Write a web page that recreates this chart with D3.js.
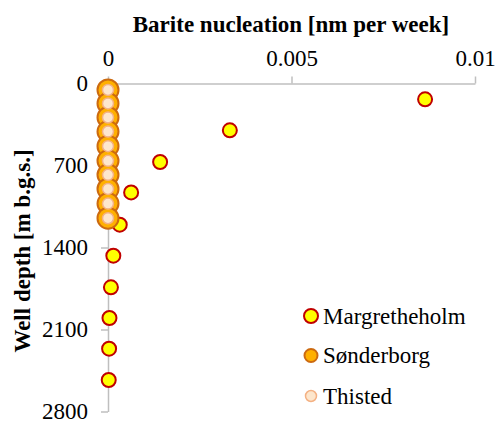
<!DOCTYPE html>
<html><head><meta charset="utf-8">
<script src="https://cdn.jsdelivr.net/npm/d3@7"></script>
<style>body{margin:0;background:#fff}svg{display:block}text{font-family:"Liberation Serif",Tinos,"Times New Roman",Times,"DejaVu Serif",serif;fill:#000}</style>
</head><body>
<script>
const xTicks = [0, 0.005, 0.01];
const yTicks = [0, 700, 1400, 2100, 2800];
const margDepth = [135, 400, 670, 930, 1205, 1470, 1740, 2002, 2264, 2531];
const margValue = [0.00864, 0.00332, 0.00142, 0.00063, 0.00032, 0.000145, 0.00008, 0.00004, 0.00003, 0.00002];
const sonDepth = [55, 170, 290, 410, 535, 660, 780, 900, 1025, 1150];
const sonValue = [0, 0, 0, 0, 0, 0, 0, 0, 0, 0];
const thiDepth = [55, 170, 290, 410, 535, 660, 780, 900, 1025, 1150];
const thiValue = [0, 0, 0, 0, 0, 0, 0, 0, 0, 0];
const seriesNames = ["Margretheholm", "Sønderborg", "Thisted"];

const FONT = '"Liberation Serif",Tinos,"Times New Roman",Times,"DejaVu Serif",serif';
const W = 496, H = 421;
const svg = d3.select("body").append("svg").attr("width", W).attr("height", H);
const x = d3.scaleLinear().domain([0, 0.01]).range([108, 475]);
const y = d3.scaleLinear().domain([0, 2800]).range([83.5, 411.5]);

const axisColor = "#bfbfbf";
const fmtX = d => d === 0 ? "0" : String(d);

const xAxis = svg.append("g").attr("transform", `translate(0,${y(0)})`)
  .call(d3.axisTop(x).tickValues(xTicks).tickSize(7).tickSizeOuter(0).tickPadding(11).tickFormat(fmtX));
const yAxis = svg.append("g").attr("transform", `translate(${x(0)},0)`)
  .call(d3.axisLeft(y).tickValues(yTicks).tickSize(7).tickSizeOuter(0).tickPadding(13).tickFormat(d3.format("d")));
[xAxis, yAxis].forEach(g => {
  g.attr("font-family", FONT);
  g.select(".domain").attr("stroke", axisColor).attr("stroke-width", 1.5);
  g.selectAll(".tick line").attr("stroke", axisColor).attr("stroke-width", 1.5);
  g.selectAll(".tick text").style("font-family", FONT).style("font-size", "23px").attr("fill", "#000");
});

svg.append("text").attr("x", 291).attr("y", 32).attr("text-anchor", "middle")
  .style("font-family", FONT).style("font-size", "23px").style("font-weight", "bold").text("Barite nucleation [nm per week]");
svg.append("text").attr("transform", "translate(30,251) rotate(-90)").attr("text-anchor", "middle")
  .style("font-family", FONT).style("font-size", "23px").style("font-weight", "bold").text("Well depth [m b.g.s.]");

const marg = margDepth.map((d, i) => ({d, v: margValue[i]}));
const son = sonDepth.map((d, i) => ({d, v: sonValue[i]}));
const thi = thiDepth.map((d, i) => ({d, v: thiValue[i]}));

const styles = [
  {fill: "#ffff00", stroke: "#c00000", r: 7, sw: 2, lr: 7},
  {fill: "#ffb000", stroke: "#cc6a10", r: 10.5, sw: 2, lr: 6.5},
  {fill: "#fde6cc", stroke: "#f4b183", r: 5.5, sw: 1.5, lr: 5.5}
];
[marg, son, thi].forEach((data, k) => {
  const s = styles[k];
  svg.append("g").selectAll("circle").data(data).join("circle")
    .attr("cx", d => x(d.v)).attr("cy", d => y(d.d)).attr("r", s.r)
    .attr("fill", s.fill).attr("stroke", s.stroke).attr("stroke-width", s.sw);
});

const legY = [316, 355.5, 396];
const leg = svg.append("g");
seriesNames.forEach((n, k) => {
  const s = styles[k];
  leg.append("circle").attr("cx", 311).attr("cy", legY[k]).attr("r", s.lr)
    .attr("fill", s.fill).attr("stroke", s.stroke).attr("stroke-width", s.sw);
  leg.append("text").attr("x", 323).attr("y", legY[k] + 7.5).style("font-family", FONT).style("font-size", "23px").text(n);
});
</script>
</body></html>
